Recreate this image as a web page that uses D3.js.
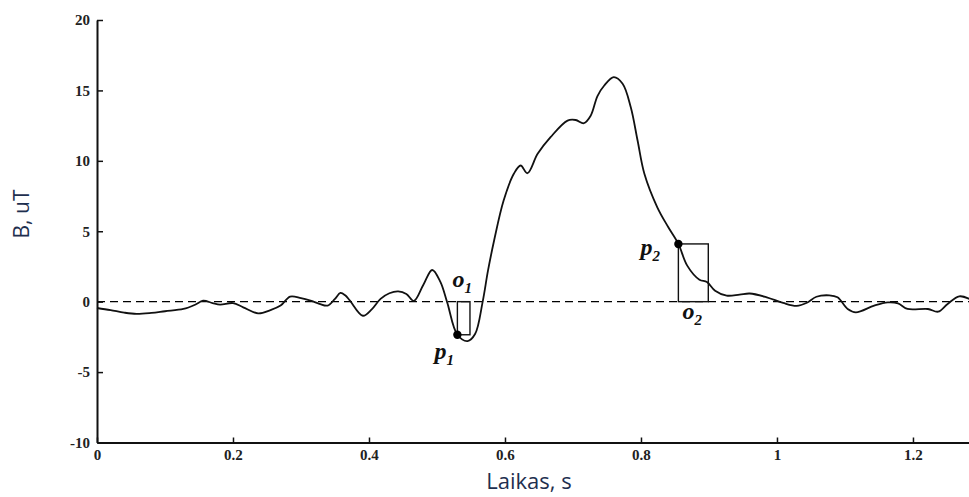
<!DOCTYPE html>
<html>
<head>
<meta charset="utf-8">
<script src="https://cdn.jsdelivr.net/npm/d3@7"></script>
<style>
  body { margin: 0; background: #fff; }
  svg { display: block; }
</style>
</head>
<body>
<svg id="chart"></svg>
<script>
// time (s) and field (uT)
const timeS = [
  0.000, 0.020, 0.040, 0.058, 0.080, 0.100, 0.127, 0.145, 0.156, 0.170,
  0.181, 0.200, 0.215, 0.237, 0.255, 0.270, 0.284, 0.300, 0.314, 0.327,
  0.339, 0.350, 0.358, 0.365, 0.372, 0.391, 0.404, 0.417, 0.430, 0.443,
  0.455, 0.466, 0.480, 0.493, 0.505, 0.515, 0.530, 0.545, 0.556, 0.567,
  0.575, 0.584, 0.598, 0.613, 0.623, 0.633, 0.648, 0.667, 0.692, 0.704,
  0.716, 0.726, 0.736, 0.746, 0.760, 0.773, 0.785, 0.795, 0.805, 0.824,
  0.840, 0.855, 0.868, 0.886, 0.897, 0.909, 0.926, 0.945, 0.960, 0.985,
  1.009, 1.029, 1.044, 1.058, 1.077, 1.089, 1.104, 1.116, 1.143, 1.163,
  1.178, 1.192, 1.222, 1.237, 1.251, 1.268, 1.283
];
const fieldUT = [
  -0.45, -0.60, -0.78, -0.87, -0.80, -0.68, -0.52, -0.20, 0.07, -0.10,
  -0.21, -0.10, -0.40, -0.83, -0.60, -0.28, 0.36, 0.25, 0.07, -0.15,
  -0.28, 0.20, 0.62, 0.45, 0.07, -1.00, -0.55, 0.20, 0.60, 0.73,
  0.55, 0.05, 1.20, 2.25, 1.40, -0.05, -2.35, -2.80, -2.30, -0.05,
  2.20, 4.34, 7.18, 9.08, 9.67, 9.12, 10.50, 11.68, 12.86, 12.90,
  12.67, 13.20, 14.60, 15.35, 15.94, 15.47, 13.80, 11.44, 9.08, 6.70,
  5.30, 4.10, 2.56, 1.56, 1.40, 0.78, 0.43, 0.50, 0.58, 0.31,
  -0.09, -0.30, -0.08, 0.35, 0.45, 0.31, -0.52, -0.76, -0.28, -0.05,
  -0.12, -0.52, -0.52, -0.71, -0.16, 0.38, 0.19
];

// marked points p1, p2 and the ends of the o1, o2 boxes
const markNames = ["p1", "p2"];
const markTime = [0.530, 0.855];
const markField = [-2.35, 4.10];
const boxEndTime = [0.5485, 0.899];

const xTicks = [0, 0.2, 0.4, 0.6, 0.8, 1, 1.2];
const yTicks = [-10, -5, 0, 5, 10, 15, 20];

const W = 969, H = 497;
const margin = { top: 20, right: 0, bottom: 54, left: 97 };

const svg = d3.select("#chart").attr("width", W).attr("height", H);

const x = d3.scaleLinear().domain([0, 1.2824]).range([margin.left, W - margin.right]);
const y = d3.scaleLinear().domain([-10, 20]).range([H - margin.bottom - 0.5, margin.top]);

const fmt = (d) => String(d);
const tickFont = "'Liberation Serif', 'DejaVu Serif', serif";

// dashed zero line
svg.append("line")
  .attr("x1", x(0)).attr("x2", x(1.2824))
  .attr("y1", y(0)).attr("y2", y(0))
  .attr("stroke", "#000")
  .attr("stroke-width", 1.4)
  .attr("stroke-dasharray", "8,5");

// Y axis
const yAxis = svg.append("g")
  .attr("transform", `translate(${x(0)},0)`)
  .call(d3.axisLeft(y).tickValues(yTicks).tickFormat(fmt).tickSize(-6).tickSizeOuter(0).tickPadding(7));

// X axis
const xAxis = svg.append("g")
  .attr("transform", `translate(0,${y(-10)})`)
  .call(d3.axisBottom(x).tickValues(xTicks).tickFormat(fmt).tickSize(-5).tickSizeOuter(0).tickPadding(7));

[yAxis, xAxis].forEach((g) => {
  g.select(".domain").attr("stroke", "#111").attr("stroke-width", 2);
  g.selectAll(".tick line").attr("stroke", "#111").attr("stroke-width", 1.5);
  g.selectAll("text")
    .attr("fill", "#222")
    .style("font-family", tickFont)
    .style("font-weight", "bold")
    .style("font-size", "15px");
});

// boxes o1, o2
svg.append("g")
  .selectAll("rect")
  .data(markTime)
  .enter()
  .append("rect")
  .attr("x", (d) => x(d))
  .attr("width", (d, i) => x(boxEndTime[i]) - x(d))
  .attr("y", (d, i) => Math.min(y(0), y(markField[i])))
  .attr("height", (d, i) => Math.abs(y(0) - y(markField[i])))
  .attr("fill", "none")
  .attr("stroke", "#111")
  .attr("stroke-width", 1.4);

// trace
const line = d3.line()
  .x((d) => x(d[0]))
  .y((d) => y(d[1]))
  .curve(d3.curveCatmullRom.alpha(0.5));

svg.append("path")
  .datum(timeS.map((t, i) => [t, fieldUT[i]]))
  .attr("d", line)
  .attr("fill", "none")
  .attr("stroke", "#111")
  .attr("stroke-width", 1.8)
  .attr("stroke-linejoin", "round");

// points
svg.append("g")
  .selectAll("circle")
  .data(markTime)
  .enter()
  .append("circle")
  .attr("cx", (d) => x(d))
  .attr("cy", (d, i) => y(markField[i]))
  .attr("r", 4.2)
  .attr("fill", "#000");

// labels p1, o1, p2, o2 (offsets in px from their point / box)
const labels = [
  { main: "p", sub: "1", px: x(markTime[0]) - 23, py: y(markField[0]) + 24 },
  { main: "o", sub: "1", px: x(markTime[0]) - 5, py: y(0) - 15 },
  { main: "p", sub: "2", px: x(markTime[1]) - 38, py: y(markField[1]) + 11 },
  { main: "o", sub: "2", px: x(markTime[1]) + 4, py: y(0) + 17 }
];

labels.forEach((l) => {
  const t = svg.append("text")
    .attr("x", l.px)
    .attr("y", l.py)
    .style("font-family", "'Liberation Serif', 'DejaVu Serif', serif")
    .style("font-style", "italic")
    .style("font-weight", "bold")
    .style("font-size", "24px")
    .attr("fill", "#111");
  t.append("tspan").text(l.main);
  t.append("tspan")
    .attr("dy", 6)
    .style("font-size", "15px")
    .text(l.sub);
});

// axis titles
const titleFont = "'Open Sans', 'Noto Sans', sans-serif";
svg.append("text")
  .attr("x", 529)
  .attr("y", 489)
  .attr("text-anchor", "middle")
  .style("font-family", titleFont)
  .style("font-size", "22px")
  .attr("fill", "#1e2f4f")
  .text("Laikas, s");

svg.append("text")
  .attr("transform", "translate(29,214) rotate(-90)")
  .attr("text-anchor", "middle")
  .style("font-family", titleFont)
  .style("font-size", "21px")
  .attr("fill", "#1e2f4f")
  .text("B, uT");
</script>
</body>
</html>
